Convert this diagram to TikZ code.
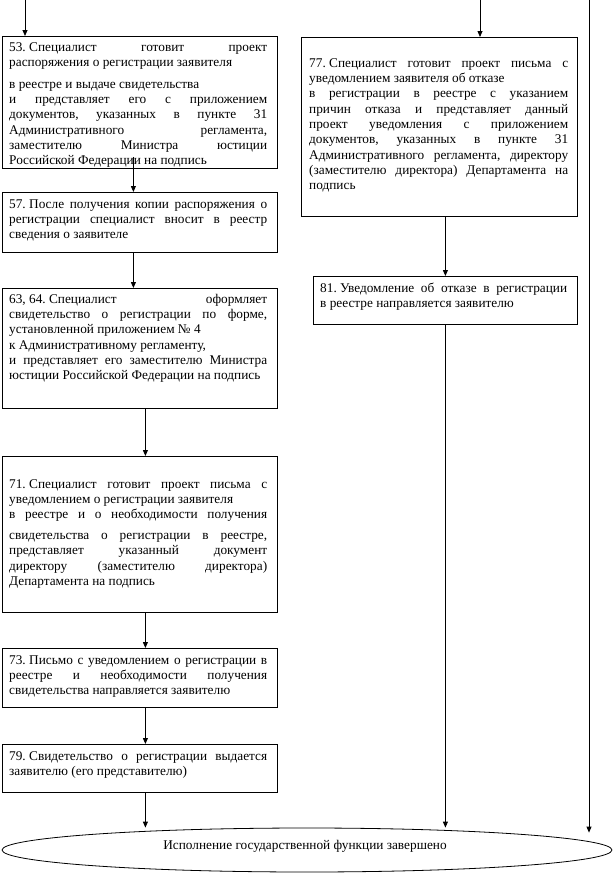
\documentclass[tikz,border=0pt]{standalone}
\usepackage{fontspec}
\setmainfont{Liberation Serif}
\usetikzlibrary{arrows.meta,shapes.geometric,calc}
\newlength\tw
\newcommand\fsp{\kern0.25em}
\newcommand\jl[1]{\noindent{\spaceskip=0.22em plus 1fil\xspaceskip=0.22em plus 1fil\hbox to\tw{\strut#1}}\par}
\newcommand\rl[1]{\noindent{\spaceskip=0.25em\xspaceskip=0.25em\hbox to\tw{\strut#1\hfil}}\par}
\tikzset{
  stepbox/.style={draw, line width=0.8bp, anchor=north west, inner sep=0pt},
  txt/.style={anchor=north west, inner sep=0pt, font=\fontsize{13.3bp}{15.3bp}\selectfont\frenchspacing},
  arr/.style={line width=0.8bp, -{Triangle[width=5bp,length=6bp]}}
}
\begin{document}
\begin{tikzpicture}[x=1bp,y=-1bp]
\fill[white] (0,0) rectangle (614,877);
\useasboundingbox (0,0) rectangle (614,877);

% left column boxes
\node[stepbox, minimum width=275bp, minimum height=132bp] (b53) at (2,36) {};
\node[txt, text width=258bp] (t53) at (9,40.3) {\setlength\tw{258bp}%
\jl{53.\fsp Специалист готовит проект}
\rl{распоряжения о регистрации заявителя}
\vspace{6.5bp}
\rl{в реестре и выдаче свидетельства}
\jl{и представляет его с приложением}
\jl{документов, указанных в пункте 31}
\jl{Административного регламента,}
\jl{заместителю Министра юстиции}
\rl{Российской Федерации на подпись}};

\node[stepbox, minimum width=275bp, minimum height=60bp] (b57) at (2,192) {};
\node[txt, text width=258bp] (t57) at (9,197.3) {\setlength\tw{258bp}%
\jl{57.\fsp После получения копии распоряжения о}
\jl{регистрации специалист вносит в реестр}
\rl{сведения о заявителе}};

\node[stepbox, minimum width=275bp, minimum height=120bp] (b63) at (2,288) {};
\node[txt, text width=258bp] (t63) at (9,292.3) {\setlength\tw{258bp}%
\jl{63,\fsp 64.\fsp Специалист оформляет}
\jl{свидетельство о регистрации по форме,}
\rl{установленной приложением № 4}
\rl{к Административному регламенту,}
\jl{и представляет его заместителю Министра}
\rl{юстиции Российской Федерации на подпись}};

\node[stepbox, minimum width=275bp, minimum height=156bp] (b71) at (2,456) {};
\node[txt, text width=258bp] (t71) at (9,477.3) {\setlength\tw{258bp}%
\jl{71.\fsp Специалист готовит проект письма с}
\rl{уведомлением о регистрации заявителя}
\jl{в реестре и о необходимости получения}
\vspace{5.5bp}
\jl{свидетельства о регистрации в реестре,}
\jl{представляет указанный документ}
\jl{директору (заместителю директора)}
\rl{Департамента на подпись}};

\node[stepbox, minimum width=275bp, minimum height=59bp] (b73) at (2,648) {};
\node[txt, text width=258bp] (t73) at (9,653.3) {\setlength\tw{258bp}%
\jl{73.\fsp Письмо с уведомлением о регистрации в}
\jl{реестре и необходимости получения}
\rl{свидетельства направляется заявителю}};

\node[stepbox, minimum width=275bp, minimum height=48bp] (b79) at (2,744) {};
\node[txt, text width=258bp] (t79) at (9,749.3) {\setlength\tw{258bp}%
\jl{79.\fsp Свидетельство о регистрации выдается}
\rl{заявителю (его представителю)}};

% right column boxes
\node[stepbox, minimum width=276bp, minimum height=179bp] (b77) at (301,37) {};
\node[txt, text width=259bp] (t77) at (309,56.3) {\setlength\tw{259bp}%
\jl{77.\fsp Специалист готовит проект письма с}
\rl{уведомлением заявителя об отказе}
\jl{в регистрации в реестре с указанием}
\jl{причин отказа и представляет данный}
\jl{проект уведомления с приложением}
\jl{документов, указанных в пункте 31}
\jl{Административного регламента, директору}
\jl{(заместителю директора) Департамента на}
\rl{подпись}};

\node[stepbox, minimum width=264bp, minimum height=48bp] (b81) at (313,276) {};
\node[txt, text width=247bp] (t81) at (320,281.3) {\setlength\tw{247bp}%
\jl{81.\fsp Уведомление об отказе в регистрации}
\rl{в реестре направляется заявителю}};

% final ellipse
\node[draw, line width=0.8bp, ellipse, minimum width=610bp, minimum height=44bp, inner sep=0pt] (e) at (307,850) {};
\node[inner sep=0pt, font=\fontsize{13.3bp}{15.3bp}\selectfont] (te) at (305,846) {Исполнение государственной функции завершено};

% connectors
\coordinate (s1) at (25,0);
\coordinate (s2) at (480,0);
\coordinate (s3) at (589,0);
\draw[arr] (s1) -- (s1 |- b53.north);
\draw[arr] ([xshift=-6.5bp,yshift=12bp]b53.south) -- ([xshift=-6.5bp]b57.north);
\draw[arr] ([xshift=-6.5bp]b57.south) -- ([xshift=-6.5bp]b63.north);
\draw[arr] ([xshift=5.5bp]b63.south) -- ([xshift=5.5bp]b71.north);
\draw[arr] ([xshift=5.5bp]b71.south) -- ([xshift=5.5bp]b73.north);
\draw[arr] ([xshift=5.5bp]b73.south) -- ([xshift=5.5bp]b79.north);
\draw[arr] ([xshift=5.5bp]b79.south) -- ([xshift=5.5bp]b79.south |- e.north);
\draw[arr] (s2) -- (s2 |- b77.north);
\draw[arr] ([xshift=6bp]b77.south) -- (b81.north);
\draw[arr] (b81.south) -- (b81.south |- e.north);
\draw[arr] (s3) -- ([yshift=-5bp]s3 |- e.north);
\end{tikzpicture}
\end{document}
